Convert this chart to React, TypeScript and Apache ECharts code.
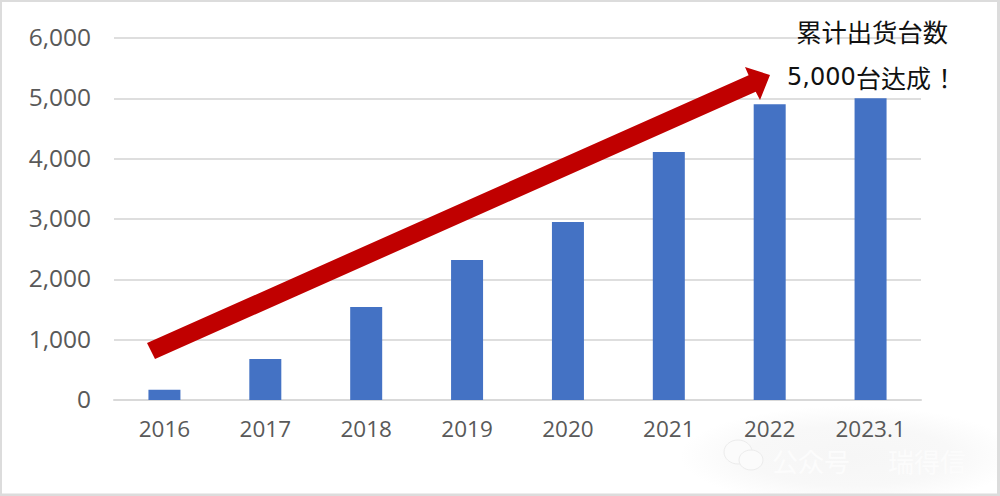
import React, { useEffect, useRef } from "react";
import * as echarts from "echarts";

const categories = ["2016", "2017", "2018", "2019", "2020", "2021", "2022", "2023.1"];
const shipments = [170, 680, 1540, 2320, 2950, 4110, 4900, 5000];
const arrowPoints = [
  [147, 343], [748.6, 75.3], [745, 67], [770, 75], [760, 100], [755.7, 91.7], [155, 359],
];
const noteLine1 = "累计出货台数";
const noteNumber = "5,000";
const noteRest = "台达成";
const noteBang = "！";
const watermarkLeft = "公众号";
const watermarkRight = "瑞得信";
const sans = '"Open Sans", "Noto Sans CJK SC", sans-serif';
const latin = '"DejaVu Sans", sans-serif';
const cjk = '"Noto Sans CJK JP", "Noto Sans CJK SC", sans-serif';

export default function App() {
  const ref = useRef<HTMLDivElement>(null);
  useEffect(() => {
    document.body.style.margin = "0";
    const chart = echarts.init(ref.current!, null, { renderer: "svg" });
    chart.setOption({
      animation: false,
      backgroundColor: "#ffffff",
      grid: { left: 114, right: 79, top: 38, bottom: 96 },
      xAxis: {
        type: "category",
        data: categories,
        axisLine: { lineStyle: { color: "#d9d9d9", width: 2 } },
        axisTick: { show: false },
        axisLabel: { color: "#595959", fontSize: 22.5, fontFamily: sans, margin: 17 },
      },
      yAxis: {
        type: "value",
        min: 0,
        max: 6000,
        interval: 1000,
        axisLine: { show: false },
        axisTick: { show: false },
        splitLine: { lineStyle: { color: "#dedede", width: 2 } },
        axisLabel: {
          color: "#595959",
          fontSize: 24.5,
          fontFamily: sans,
          margin: 23,
          verticalAlign: "bottom",
          lineHeight: 3,
          formatter: (v: number) => v.toLocaleString("en-US"),
        },
      },
      series: [
        {
          type: "bar",
          data: shipments,
          barWidth: 32,
          itemStyle: { color: "#4472c4" },
        },
      ],
      graphic: [
        {
          type: "ellipse",
          z: -1,
          shape: { cx: 850, cy: 456, rx: 170, ry: 50 },
          style: {
            fill: new echarts.graphic.RadialGradient(0.5, 0.5, 0.5, [
              { offset: 0, color: "#f6f6f6" },
              { offset: 0.6, color: "#f8f8f8" },
              { offset: 1, color: "#ffffff" },
            ]),
          },
        },
        {
          type: "rect",
          z: 100,
          shape: { x: 0.5, y: 0.5, width: 998, height: 494.5 },
          style: { fill: "none", stroke: "#dcdcdc", lineWidth: 3 },
        },
        {
          type: "polygon",
          z: 50,
          shape: { points: arrowPoints },
          style: { fill: "#c00000" },
        },
        {
          type: "text",
          z: 60,
          x: 948,
          y: 31,
          style: { text: noteLine1, align: "right", verticalAlign: "middle", fill: "#111111", fontSize: 25.3, fontFamily: cjk },
        },
        {
          type: "text",
          z: 60,
          x: 787,
          y: 77,
          style: {
            text: noteNumber,
            verticalAlign: "middle",
            fill: "#111111",
            fontSize: 24,
            fontFamily: latin,
          },
        },
        {
          type: "text",
          z: 60,
          x: 856,
          y: 77,
          style: { text: noteRest, verticalAlign: "middle", fill: "#111111", fontSize: 25, fontFamily: cjk },
        },
        {
          type: "text",
          z: 60,
          x: 932,
          y: 77,
          style: { text: noteBang, verticalAlign: "middle", fill: "#111111", fontSize: 25, fontFamily: cjk },
        },
        {
          type: "group",
          z: 40,
          children: [
            { type: "ellipse", shape: { cx: 738, cy: 452, rx: 14, ry: 12 }, style: { fill: "#fbfbfb", stroke: "#ececec" } },
            { type: "ellipse", shape: { cx: 751, cy: 460, rx: 12, ry: 10 }, style: { fill: "#fbfbfb", stroke: "#ececec" } },
            {
              type: "text",
              x: 772,
              y: 460,
              style: { text: watermarkLeft, verticalAlign: "middle", fill: "#fcfcfc", fontSize: 26, fontFamily: cjk },
            },
            {
              type: "text",
              x: 888,
              y: 460,
              style: { text: watermarkRight, verticalAlign: "middle", fill: "#fcfcfc", fontSize: 26, fontFamily: cjk },
            },
          ],
        },
      ],
    });
    return () => chart.dispose();
  }, []);
  return <div ref={ref} style={{ width: 1000, height: 496 }} />;
}
